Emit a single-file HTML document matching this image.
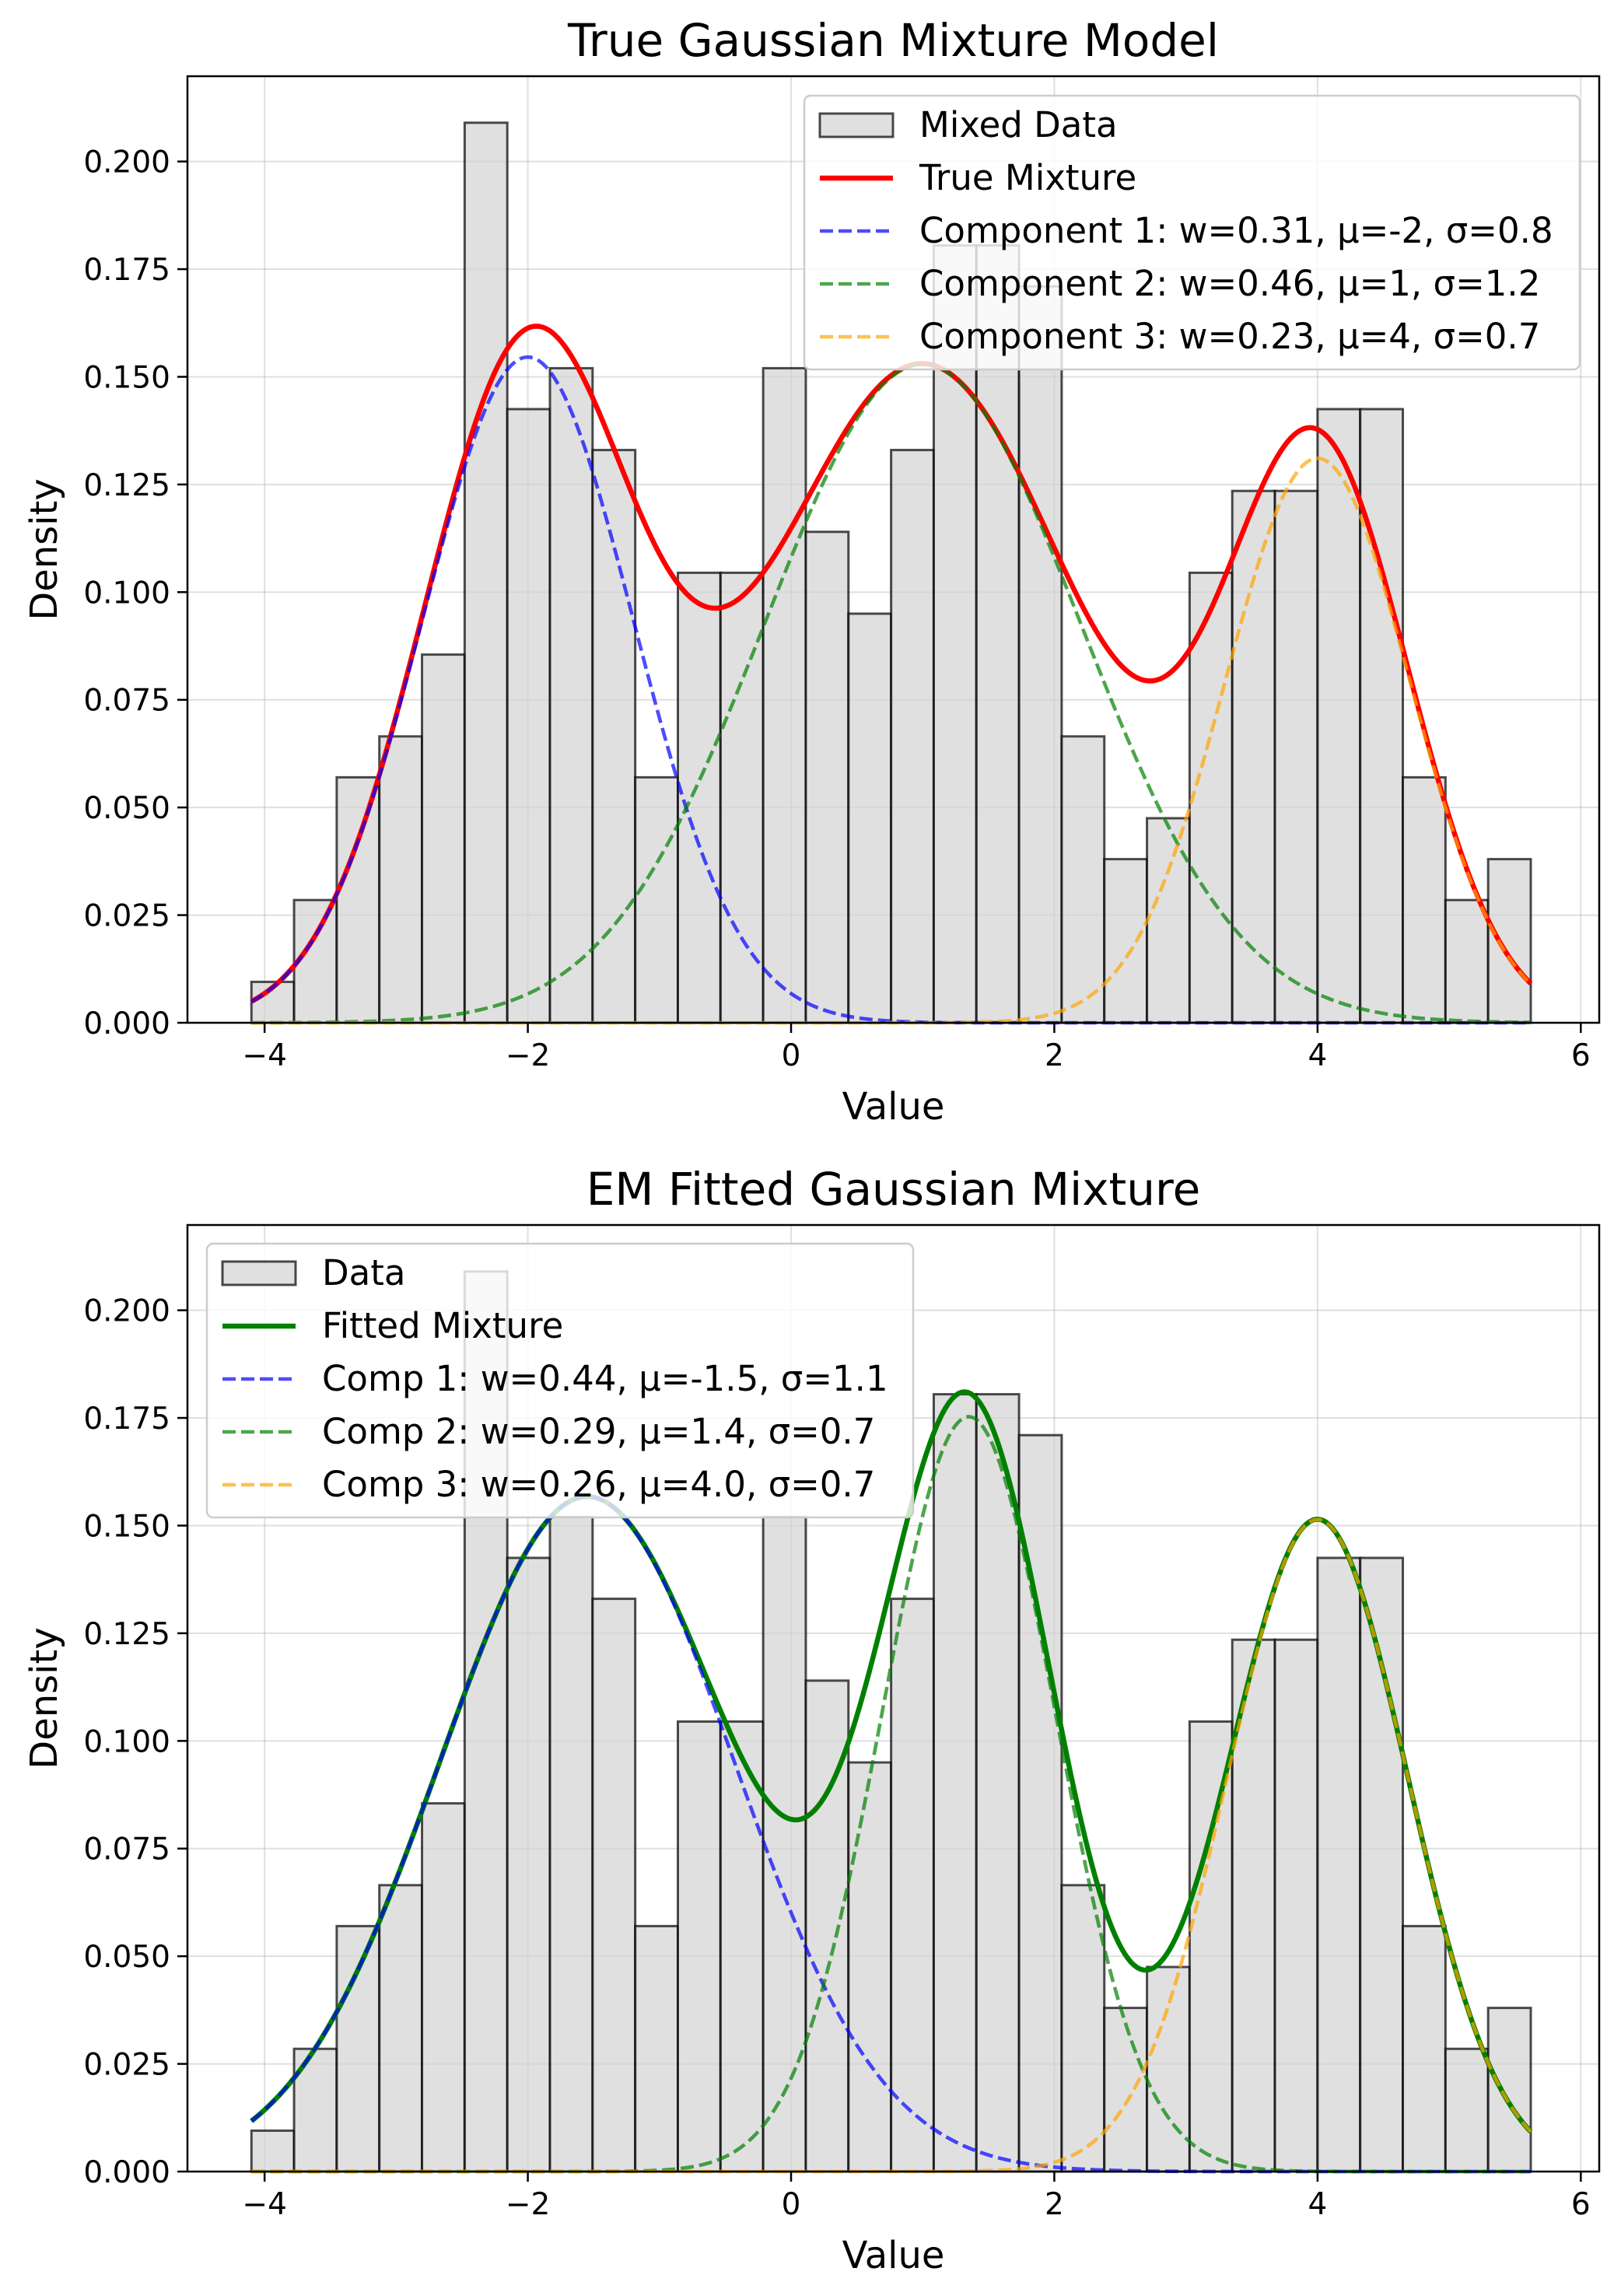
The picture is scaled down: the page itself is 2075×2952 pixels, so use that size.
<!DOCTYPE html>
<html><head><meta charset="utf-8"><style>
html,body{margin:0;padding:0;background:#fff;}
svg{display:block;font-family:"DejaVu Sans","Liberation Sans",sans-serif;}
</style></head><body>
<svg id="fig" width="2075" height="2952" viewBox="0 0 2075 2952" xmlns="http://www.w3.org/2000/svg"></svg>
<script>
const binStart = -4.1;
const binWidth = 0.324;
const histDensity = [0.0095,0.0285,0.057,0.0665,0.0855,0.209,0.1425,0.152,0.133,0.057,0.1045,0.1045,0.152,0.114,0.095,0.133,0.1805,0.1805,0.171,0.0665,0.038,0.0475,0.1045,0.1235,0.1235,0.1425,0.1425,0.057,0.0285,0.038];
const trueWeights = [0.31,0.46,0.23];
const trueMeans = [-2,1,4];
const trueSigmas = [0.8,1.2,0.7];
const fitWeights = [0.44,0.29,0.26];
const fitMeans = [-1.55,1.35,4.0];
const fitSigmas = [1.12,0.66,0.685];
const xTicks = [-4,-2,0,2,4,6];
const yTicks = [0,0.025,0.05,0.075,0.1,0.125,0.15,0.175,0.2];
const curveRange = [-4.1,5.62];
const trueLabels = ["Mixed Data","True Mixture","Component 1: w=0.31, μ=-2, σ=0.8","Component 2: w=0.46, μ=1, σ=1.2","Component 3: w=0.23, μ=4, σ=0.7"];
const fitLabels = ["Data","Fitted Mixture","Comp 1: w=0.44, μ=-1.5, σ=1.1","Comp 2: w=0.29, μ=1.4, σ=0.7","Comp 3: w=0.26, μ=4.0, σ=0.7"];

const NS="http://www.w3.org/2000/svg";
const svg=document.getElementById('fig');
function mk(tag,attrs,parent){const e=document.createElementNS(NS,tag);for(const k in attrs)e.setAttribute(k,attrs[k]);(parent||svg).appendChild(e);return e;}
function gauss(x,w,m,s){return w*Math.exp(-0.5*((x-m)/s)**2)/(s*Math.sqrt(2*Math.PI));}
const compColors=['rgba(0,0,255,0.7)','rgba(0,128,0,0.7)','rgba(255,165,0,0.7)'];

function panel(top,title,mixColor,W,M,S,labels,legBox){
  const L=241,R=2056,T=top,B=top+1217;
  const xmin=-4.586,xmax=6.14,ymax=0.2198;
  const sx=v=>L+(v-xmin)/(xmax-xmin)*(R-L);
  const sy=v=>B-v/ymax*(B-T);
  const g=mk('g',{});
  
  
  xTicks.forEach(t=>{const l=mk('line',{x1:sx(t),x2:sx(t),y1:T,y2:B,stroke:'#b0b0b0','stroke-opacity':0.4,'stroke-width':2},g);});
  yTicks.forEach(t=>{const l=mk('line',{x1:L,x2:R,y1:sy(t),y2:sy(t),stroke:'#b0b0b0','stroke-opacity':0.4,'stroke-width':2},g);});
  histDensity.forEach((d,i)=>{
    const x0=sx(binStart+i*binWidth),x1=sx(binStart+(i+1)*binWidth);
    const r=mk('rect',{x:x0,y:sy(d),width:x1-x0,height:sy(0)-sy(d),fill:'rgba(211,211,211,0.7)',stroke:'rgba(0,0,0,0.7)','stroke-width':3},g);
    
    
  });
  const N=400;
  function path(fn){let d='';for(let k=0;k<=N;k++){const x=curveRange[0]+(curveRange[1]-curveRange[0])*k/N;d+=(k?'L':'M')+sx(x).toFixed(2)+','+sy(fn(x)).toFixed(2);}return d;}
  const mix=mk('path',{d:path(x=>W.reduce((a,w,j)=>a+gauss(x,w,M[j],S[j]),0)),fill:'none',stroke:mixColor,'stroke-width':6.5},g);
  
  
  W.forEach((w,j)=>{
    const p=mk('path',{d:path(x=>gauss(x,w,M[j],S[j])),fill:'none',stroke:compColors[j],'stroke-width':4.6,'stroke-dasharray':'17,7'},g);
    
    
  });
  const fr=mk('rect',{x:L,y:T,width:R-L,height:B-T,fill:'none',stroke:'#000','stroke-width':2.5},g);
  
  
  xTicks.forEach(t=>{
    mk('line',{x1:sx(t),x2:sx(t),y1:B,y2:B+13,stroke:'#000','stroke-width':2.5},g);
    const tx=mk('text',{x:sx(t),y:B+55,'font-size':39,'text-anchor':'middle'},g);
    tx.textContent=(t<0?'−':'')+Math.abs(t);
    
    
  });
  yTicks.forEach(t=>{
    mk('line',{x1:L-13,x2:L,y1:sy(t),y2:sy(t),stroke:'#000','stroke-width':2.5},g);
    const tx=mk('text',{x:L-22,y:sy(t)+14,'font-size':39,'text-anchor':'end'},g);
    tx.textContent=t.toFixed(3);
    
    
  });
  const ti=mk('text',{x:(L+R)/2,y:T-26,'font-size':58,'text-anchor':'middle'},g);
  ti.textContent=title;
  
  
  const xl=mk('text',{x:(L+R)/2,y:B+124,'font-size':48,'text-anchor':'middle'},g);
  xl.textContent='Value';
  
  
  const yl=mk('text',{x:0,y:0,'font-size':48,'text-anchor':'middle',transform:`translate(73,${(T+B)/2}) rotate(-90)`},g);
  yl.textContent='Density';
  
  
  const lg=mk('g',{},g);
  
  
  const [lx,ly,lw,lh]=legBox;
  mk('rect',{x:lx,y:ly,width:lw,height:lh,rx:8,fill:'rgba(255,255,255,0.8)',stroke:'#cccccc','stroke-width':2.5},lg);
  labels.forEach((lab,i)=>{
    const cy=ly+38+i*68;
    if(i===0){mk('rect',{x:lx+20,y:cy-15,width:94,height:30,fill:'rgba(211,211,211,0.7)',stroke:'rgba(0,0,0,0.7)','stroke-width':3},lg);}
    else if(i===1){mk('line',{x1:lx+20,x2:lx+114,y1:cy,y2:cy,stroke:mixColor,'stroke-width':6.5},lg);}
    else {mk('line',{x1:lx+20,x2:lx+114,y1:cy,y2:cy,stroke:compColors[i-2],'stroke-width':4.6,'stroke-dasharray':'17,7'},lg);}
    const t=mk('text',{x:lx+148,y:cy+15,'font-size':45},lg);
    t.textContent=lab;
    
    
  });
}
panel(98,'True Gaussian Mixture Model','#ff0000',trueWeights,trueMeans,trueSigmas,trueLabels,[1034,123,997,352]);
panel(1575,'EM Fitted Gaussian Mixture','#008000',fitWeights,fitMeans,fitSigmas,fitLabels,[266,1599,908,352]);
</script>
</body></html>
